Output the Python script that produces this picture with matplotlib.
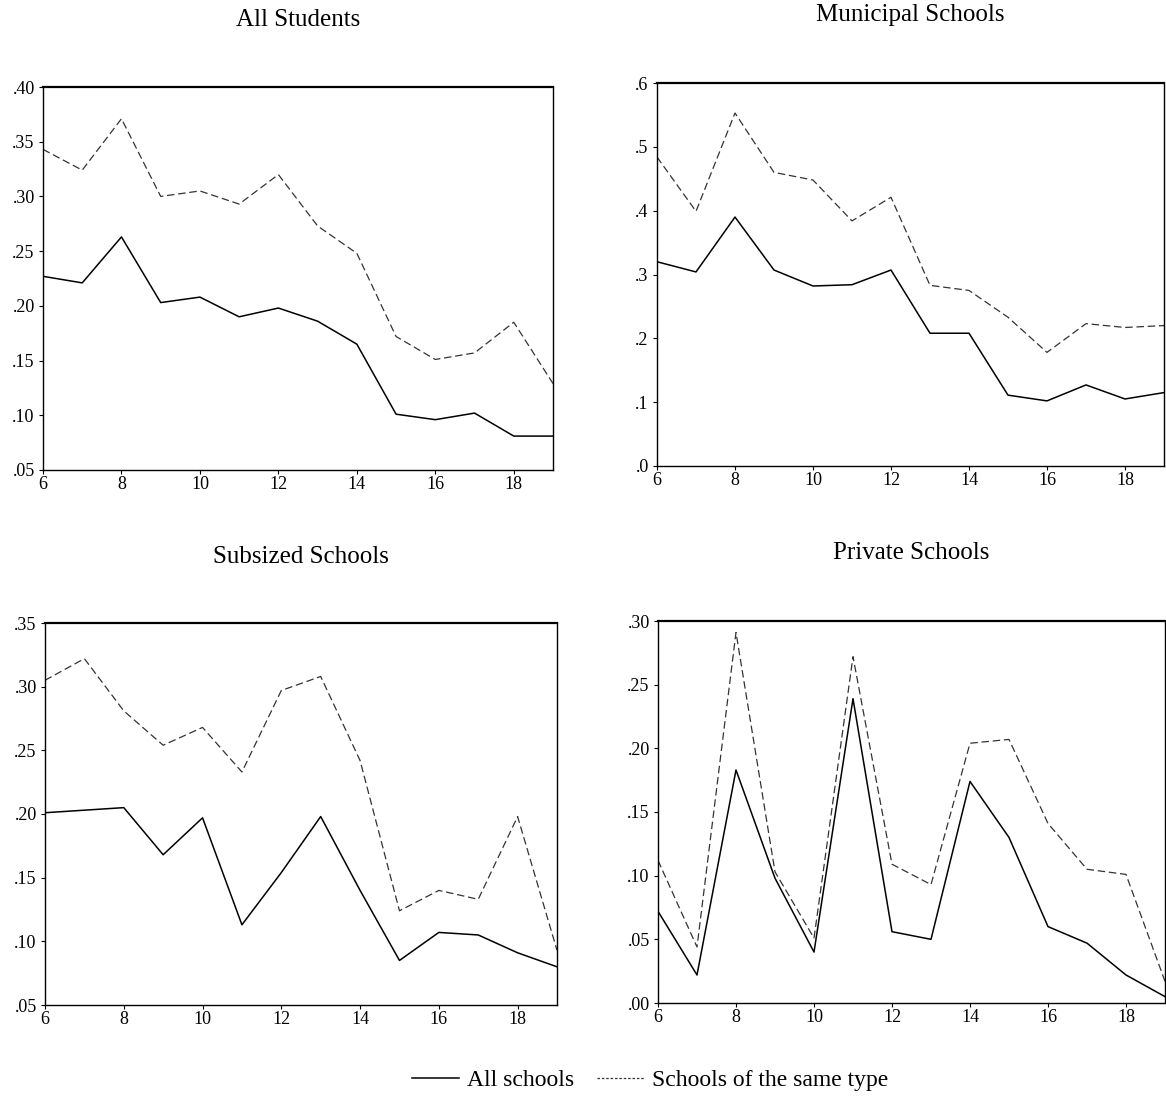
import numpy as np
import matplotlib
matplotlib.use("Agg")
import matplotlib.pyplot as plt
from matplotlib.lines import Line2D

plt.rcParams['font.family'] = ['Liberation Serif', 'DejaVu Serif']

years = list(range(6, 20))

# All Students
all_solid = [.227, .221, .263, .203, .208, .190, .198, .186, .165, .101, .096, .102, .081, .081]
all_dash = [.343, .324, .371, .300, .305, .293, .320, .273, .248, .172, .151, .157, .185, .129]

# Municipal Schools
mun_solid = [.320, .304, .390, .307, .282, .284, .307, .208, .208, .111, .102, .127, .105, .115]
mun_dash = [.484, .399, .553, .460, .448, .384, .421, .283, .275, .233, .178, .223, .217, .220]

# Subsized Schools
sub_solid = [.201, .203, .205, .168, .197, .113, .154, .198, .140, .085, .107, .105, .091, .080]
sub_dash = [.305, .322, .281, .254, .268, .233, .297, .308, .242, .124, .140, .133, .198, .093]

# Private Schools
pri_solid = [.072, .022, .183, .098, .040, .239, .056, .050, .174, .130, .060, .047, .022, .005]
pri_dash = [.112, .044, .291, .103, .051, .272, .109, .093, .204, .207, .141, .105, .101, .017]

panels = [
    ("All Students", all_solid, all_dash, np.arange(.05, .401, .05), (.05, .40), "{:.2f}"),
    ("Municipal Schools", mun_solid, mun_dash, np.arange(0, .61, .1), (0, .6), "{:.1f}"),
    ("Subsized Schools", sub_solid, sub_dash, np.arange(.05, .351, .05), (.05, .35), "{:.2f}"),
    ("Private Schools", pri_solid, pri_dash, np.arange(0, .301, .05), (0, .30), "{:.2f}"),
]

W, H = 1166, 1096
fig = plt.figure(figsize=(W / 100, H / 100), dpi=100)

# axes boxes in pixels: left, top, right, bottom
boxes = [(43, 87, 553, 470), (657, 83, 1164, 466), (45, 623, 557, 1005), (658, 621, 1165, 1003)]
title_y = [20, 15, 557, 553]

for (title, solid, dash, yt, ylim, fmt), (l, t, r, b), ty in zip(panels, boxes, title_y):
    ax = fig.add_axes([l / W, 1 - b / H, (r - l) / W, (b - t) / H])
    ax.plot(years, solid, color='black', lw=1.1)
    ax.plot(years, dash, color='#333333', lw=0.9, dashes=(6, 3))
    ax.set_xlim(6, 19)
    ax.set_ylim(*ylim)
    ax.set_xticks(range(6, 19, 2))
    ax.set_yticks(yt)
    ax.set_yticklabels([fmt.format(v).lstrip('0') for v in yt])
    ax.tick_params(axis='x', direction='out', length=3, pad=1, labelsize=13)
    ax.tick_params(axis='y', direction='out', length=3, pad=3, labelsize=13)
    for s in ax.spines.values():
        s.set_linewidth(1.0)
    ax.spines['top'].set_linewidth(1.6)
    fig.text(((l + r) / 2) / W, 1 - ty / H, title, ha='center', va='center', fontsize=18)

handles = [
    Line2D([], [], color='black', lw=1.1),
    Line2D([], [], color='#333333', lw=0.9, dashes=(2, 1.5)),
]
fig.legend(handles, ["All schools", "Schools of the same type"], loc='center',
           bbox_to_anchor=(650 / W, 1 - 1080 / H), ncol=2, frameon=False,
           fontsize=17, handlelength=2.0, handletextpad=0.3, columnspacing=1.0)

fig.savefig("out.png", dpi=100)
